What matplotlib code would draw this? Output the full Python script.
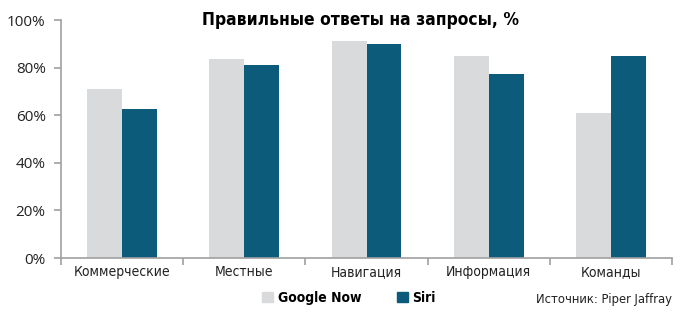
import matplotlib
matplotlib.use("Agg")
import matplotlib.pyplot as plt
import numpy as np
from matplotlib.patches import Rectangle
from matplotlib import font_manager as fm

categories = ["Коммерческие", "Местные", "Навигация", "Информация", "Команды"]
google_now = [71, 83.5, 91, 85, 61]
siri = [62.5, 81, 90, 77.5, 85]
series_names = ["Google Now", "Siri"]
yticks = [0, 20, 40, 60, 80, 100]
title = "Правильные ответы на запросы, %"
source = "Источник: Piper Jaffray"

GRAY = "#d9dadc"
BLUE = "#0d5b7a"
AXC = "#a0a0a0"

def fp(size, weight="normal"):
    return fm.FontProperties(family=["DejaVu Sans"], stretch="condensed", size=size, weight=weight)

fig = plt.figure(figsize=(6.8, 3.14), dpi=100)
ax = fig.add_axes([61/680, 1-258/314, (672-61)/680, (258-20)/314])

x = np.arange(len(categories))
w = 0.285
ax.bar(x - w/2, google_now, width=w, color=GRAY, label=series_names[0])
ax.bar(x + w/2, siri, width=w, color=BLUE, label=series_names[1])

ax.set_xlim(-0.5, len(categories) - 0.5)
ax.set_ylim(0, 100)
ax.set_yticks(yticks)
ax.set_yticklabels([f"{v}%" for v in yticks], fontsize=11, color="#222222", family=["Open Sans", "DejaVu Sans"])
ax.set_xticks(x)
ax.set_xticklabels(categories, fontproperties=fp(10), color="#222222")
ax.set_xticks(np.arange(len(categories) + 1) - 0.5, minor=True)
ax.tick_params(axis="x", which="major", length=0, pad=5)
ax.tick_params(axis="x", which="minor", length=5, color=AXC, width=1.2)
ax.tick_params(axis="y", length=5, color=AXC, width=1.2, pad=6)
for s in ["top", "right"]:
    ax.spines[s].set_visible(False)
for s in ["left", "bottom"]:
    ax.spines[s].set_color(AXC)
    ax.spines[s].set_linewidth(1.2)

fig.text(360/680, 1-20/314, title, ha="center", va="center", fontproperties=fp(12.5, "bold"))

handles = [Rectangle((0, 0), 1, 1, color=GRAY), Rectangle((0, 0), 1, 1, color=BLUE)]
leg = fig.legend(handles, series_names, loc="center", bbox_to_anchor=(349/680, 1-298/314),
                 ncol=2, frameon=False, handlelength=0.75, handleheight=0.75,
                 handletextpad=0.35, columnspacing=2.6,
                 prop=fp(10, "bold"))
fig.text(672/680, 1-300/314, source, ha="right", va="center", fontproperties=fp(9.3), color="#222222")

fig.savefig("out.png", dpi=100)
